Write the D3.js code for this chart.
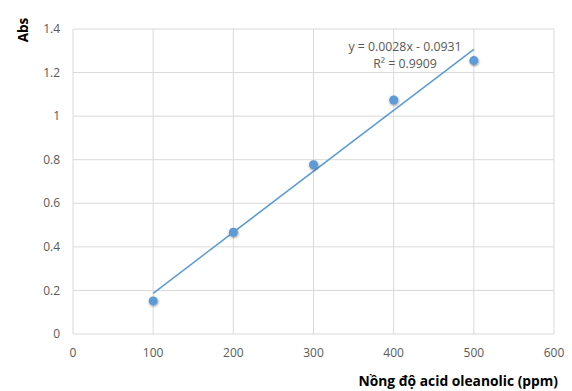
<!DOCTYPE html>
<html>
<head>
<meta charset="utf-8">
<script src="https://cdn.jsdelivr.net/npm/d3@7"></script>
<style>
  body { margin: 0; background: #fff; }
  text { font-family: "Open Sans", "Noto Sans", sans-serif; }
</style>
</head>
<body>
<div id="chart"></div>
<script>
// data
const concentrations = [100, 200, 300, 400, 500];
const absorbance = [0.152, 0.467, 0.777, 1.074, 1.255];
const slope = 0.0028;
const intercept = -0.0931;
const equationLabel = 'y = 0.0028x - 0.0931';
const r2Label = 'R² = 0.9909';
const xTicks = [0, 100, 200, 300, 400, 500, 600];
const yTicks = [0, 0.2, 0.4, 0.6, 0.8, 1, 1.2, 1.4];

const width = 572;
const height = 391;
const margin = { top: 29, right: 18, bottom: 57, left: 73 };

const svg = d3.select('#chart')
    .append('svg')
    .attr('width', width)
    .attr('height', height);

const x = d3.scaleLinear().domain([0, 600]).range([margin.left, width - margin.right]);
const y = d3.scaleLinear().domain([0, 1.4]).range([height - margin.bottom, margin.top]);

const grid = '#d9d9d9';
const labelColor = '#595959';
const blue = '#5b9bd5';

// gridlines
svg.append('g')
    .selectAll('line')
    .data(yTicks)
    .join('line')
    .attr('x1', x(0))
    .attr('x2', x(600))
    .attr('y1', d => y(d))
    .attr('y2', d => y(d))
    .attr('stroke', grid)
    .attr('stroke-width', 1);

svg.append('g')
    .selectAll('line')
    .data(xTicks)
    .join('line')
    .attr('x1', d => x(d))
    .attr('x2', d => x(d))
    .attr('y1', y(0))
    .attr('y2', y(1.4))
    .attr('stroke', grid)
    .attr('stroke-width', 1);

// tick labels
svg.append('g')
    .selectAll('text')
    .data(yTicks)
    .join('text')
    .attr('x', x(0) - 13)
    .attr('y', d => y(d))
    .attr('dy', '0.35em')
    .attr('text-anchor', 'end')
    .attr('font-size', 12)
    .attr('fill', labelColor)
    .text(d => d3.format('')(d));

svg.append('g')
    .selectAll('text')
    .data(xTicks)
    .join('text')
    .attr('x', d => x(d))
    .attr('y', y(0) + 19)
    .attr('dy', '0.35em')
    .attr('text-anchor', 'middle')
    .attr('font-size', 12)
    .attr('fill', labelColor)
    .text(d => d);

// trendline
const fit = v => slope * v + intercept;
svg.append('line')
    .attr('x1', x(concentrations[0]))
    .attr('y1', y(fit(concentrations[0])))
    .attr('x2', x(concentrations[concentrations.length - 1]))
    .attr('y2', y(fit(concentrations[concentrations.length - 1])))
    .attr('stroke', blue)
    .attr('stroke-width', 1.5);

// markers with a soft shadow
const defs = svg.append('defs');
const filter = defs.append('filter').attr('id', 'shadow')
    .attr('x', '-50%').attr('y', '-50%').attr('width', '200%').attr('height', '200%');
filter.append('feDropShadow')
    .attr('dx', 0.5).attr('dy', 1).attr('stdDeviation', 0.8)
    .attr('flood-color', '#000').attr('flood-opacity', 0.45);

svg.append('g')
    .selectAll('circle')
    .data(concentrations)
    .join('circle')
    .attr('cx', d => x(d))
    .attr('cy', (d, i) => y(absorbance[i]))
    .attr('r', 4.5)
    .attr('fill', blue)
    .attr('filter', 'url(#shadow)');

// equation label
svg.append('text')
    .attr('x', 405)
    .attr('y', 47)
    .attr('dy', '0.35em')
    .attr('text-anchor', 'middle')
    .attr('font-size', 12.3)
    .attr('fill', labelColor)
    .text(equationLabel);

svg.append('text')
    .attr('x', 405)
    .attr('y', 64)
    .attr('dy', '0.35em')
    .attr('text-anchor', 'middle')
    .attr('font-size', 12.3)
    .attr('fill', labelColor)
    .text(r2Label);

// axis titles
svg.append('text')
    .attr('transform', 'translate(23,30) rotate(-90)')
    .attr('dy', '0.35em')
    .attr('text-anchor', 'middle')
    .attr('font-size', 13.5)
    .attr('font-weight', 'bold')
    .attr('fill', '#000')
    .text('Abs');

svg.append('text')
    .attr('x', 558)
    .attr('y', 381)
    .attr('dy', '0.35em')
    .attr('text-anchor', 'end')
    .attr('font-size', 13.8)
    .attr('font-weight', 'bold')
    .attr('fill', '#000')
    .text('Nồng độ acid oleanolic (ppm)');
</script>
</body>
</html>
